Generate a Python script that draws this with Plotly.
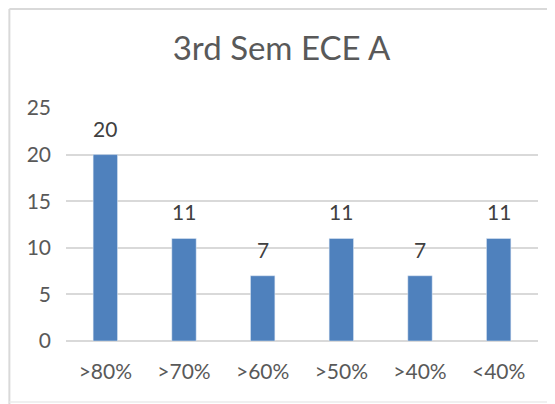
import plotly.graph_objects as go

# ── Data ──────────────────────────────────────────────────────────────────────
categories = [">80%", ">70%", ">60%", ">50%", ">40%", "<40%"]
students = [20, 11, 7, 11, 7, 11]
y_ticks = [0, 5, 10, 15, 20, 25]

BAR = "#4F81BD"
TXT = "#595959"
FONT = "Lato, Open Sans, sans-serif"
EDGE = "#D9D9D9"

# page body has an 8px margin, so the figure is sized to fit the 555x404 window
W, H = 547, 396

fig = go.Figure(go.Bar(
    x=categories, y=students,
    marker_color=BAR,
    width=0.31,
    hoverinfo="x+y",
))

# data labels above each bar
for c, v in zip(categories, students):
    fig.add_annotation(
        x=c, y=v, text=str(v), showarrow=False,
        yanchor="bottom", yshift=12,
        font=dict(size=21, color="#404040", family=FONT),
    )

# chart-area border (top, left, faint bottom)
fig.add_shape(type="line", xref="paper", yref="paper",
              x0=-0.12, x1=1.04, y0=1.425, y1=1.425,
              line=dict(color=EDGE, width=2))
fig.add_shape(type="line", xref="paper", yref="paper",
              x0=-0.12, x1=-0.12, y0=-0.27, y1=1.425,
              line=dict(color=EDGE, width=2))
fig.add_shape(type="line", xref="paper", yref="paper",
              x0=-0.12, x1=1.04, y0=-0.262, y1=-0.262,
              line=dict(color="#EBEBEB", width=1.5))

fig.update_layout(
    title=dict(text="3rd Sem ECE A", x=0.5, xanchor="center",
               y=1 - 40 / H, yanchor="middle",
               font=dict(size=33, color=TXT, family=FONT)),
    width=W, height=H,
    margin=dict(l=58, r=17, t=100, b=63),
    paper_bgcolor="white", plot_bgcolor="white",
    showlegend=False,
    font=dict(family=FONT, color=TXT, size=21),
    xaxis=dict(showline=False, ticks="", ticklabelstandoff=16,
               tickfont=dict(size=21, color=TXT)),
    yaxis=dict(range=[0, 25], tickvals=y_ticks, showgrid=True,
               gridcolor=EDGE, gridwidth=1.5, zeroline=True,
               zerolinecolor=EDGE, zerolinewidth=1.5,
               ticks="", ticklabelstandoff=14,
               tickfont=dict(size=21, color=TXT)),
)

fig.write_html("out.html")
